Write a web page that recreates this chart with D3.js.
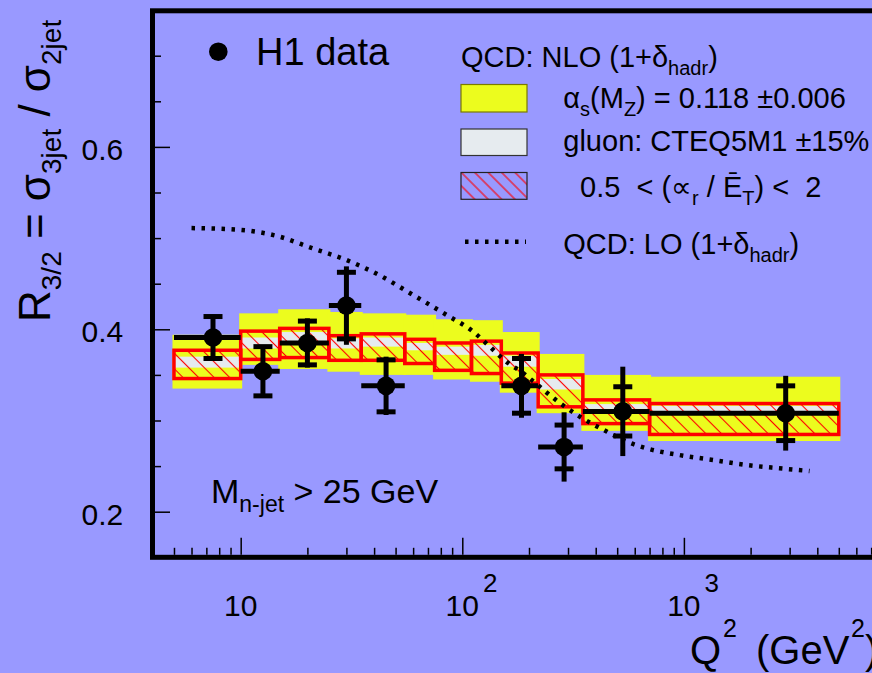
<!DOCTYPE html>
<html>
<head>
<meta charset="utf-8">
<script src="https://d3js.org/d3.v7.min.js"></script>
<style>
body { margin: 0; background: #9999ff; }
svg { display: block; }
text { font-family: "Liberation Sans", Arial, Helvetica, sans-serif; fill: #000; }
</style>
</head>
<body>
<div id="chart"></div>
<script>
// H1 data: R(3/2) vs Q^2
var binLo = [5, 10, 15, 25, 35, 150, 220, 350, 700];
var binHi = [10, 15, 25, 35, 55, 220, 350, 700, 5000];
var dataQ2 = [7.5, 12.6, 20, 30, 45.3, 185, 288, 530, 2880];
var dataR = [0.391, 0.354, 0.385, 0.426, 0.338, 0.338, 0.271, 0.310, 0.308];
var statErr = [0.023, 0.027, 0.024, 0.0365, 0.0285, 0.030, 0.024, 0.027, 0.030];
var totErr = [0.025, 0.0285, 0.027, 0.043, 0.032, 0.035, 0.038, 0.049, 0.041];

// NLO theory bins
var thEdges = [5, 10, 15, 25, 35, 55, 75, 110, 150, 220, 350, 700, 5000];
var alphaHi = [0.394, 0.4175, 0.422, 0.419, 0.4175, 0.416, 0.411, 0.410, 0.397, 0.373, 0.350, 0.348];
var alphaLo = [0.335, 0.361, 0.3565, 0.3535, 0.350, 0.350, 0.345, 0.3425, 0.3305, 0.308, 0.2886, 0.2775];
var gluonHi = [0.370, 0.391, 0.397, 0.390, 0.391, 0.385, 0.381, 0.383, 0.371, 0.3455, 0.318, 0.316];
var gluonLo = [0.358, 0.379, 0.387, 0.379, 0.381, 0.377, 0.372, 0.371, 0.359, 0.334, 0.3127, 0.308];
var scaleHi = [0.377, 0.398, 0.401, 0.393, 0.395, 0.389, 0.385, 0.387, 0.374, 0.350, 0.3226, 0.3186];
var scaleLo = [0.346, 0.367, 0.369, 0.366, 0.366, 0.3625, 0.355, 0.3515, 0.341, 0.315, 0.2966, 0.2847];

// LO curve
var loQ2 = [6, 10, 15, 21, 30, 42.5, 60, 85, 112, 133, 159, 188, 209, 276, 340, 448, 552, 679, 960, 1357, 1920, 2700, 3690];
var loR = [0.511, 0.509, 0.5015, 0.489, 0.476, 0.459, 0.4376, 0.4157, 0.3974, 0.381, 0.364, 0.352, 0.343, 0.319, 0.304, 0.288, 0.277, 0.2695, 0.262, 0.2567, 0.2512, 0.2476, 0.2446];

// ticks
var yMajor = [0.2, 0.4, 0.6];
var yMinor = [0.25, 0.3, 0.35, 0.45, 0.5, 0.55, 0.65, 0.7];
var xMajor = [10, 100, 1000];
var xMinor = [5, 6, 7, 8, 9, 20, 30, 40, 50, 60, 70, 80, 90, 200, 300, 400, 500, 600, 700, 800, 900, 2000, 3000, 4000, 5000, 6000, 7000, 8000, 9000];

var W = 872, H = 673;
var svg = d3.select("#chart").append("svg").attr("width", W).attr("height", H);
svg.append("rect").attr("width", W).attr("height", H).attr("fill", "#9999ff");

var defs = svg.append("defs");
function hatch(id, size) {
	var p = defs.append("pattern").attr("id", id)
		.attr("patternUnits", "userSpaceOnUse")
		.attr("width", size).attr("height", size)
		.attr("patternTransform", "rotate(-45)");
	p.append("line").attr("x1", size / 2).attr("y1", 0).attr("x2", size / 2).attr("y2", size)
		.attr("stroke", "#ff0000").attr("stroke-width", 1.1);
}
hatch("hatch", 11);
hatch("hatchLeg", 9.5);

var x = d3.scaleLog().domain([4, 10000]).range([152.5, 905.5]);
var y = d3.scaleLinear().domain([0.15, 0.75]).range([557.3, 10.1]);

var yellow = "#ecfc1e", grey = "#e6ebef", red = "#ff0000";

var th = d3.range(alphaHi.length);
var plot = svg.append("g");

// alpha_s band
plot.selectAll(".alpha").data(th).enter().append("rect")
	.attr("x", function(i) { return x(thEdges[i]) - 1.5; })
	.attr("width", function(i) { return x(thEdges[i + 1]) - x(thEdges[i]) + 3; })
	.attr("y", function(i) { return y(alphaHi[i]); })
	.attr("height", function(i) { return y(alphaLo[i]) - y(alphaHi[i]); })
	.attr("fill", yellow);

// gluon band
plot.selectAll(".gluon").data(th).enter().append("rect")
	.attr("x", function(i) { return x(thEdges[i]); })
	.attr("width", function(i) { return x(thEdges[i + 1]) - x(thEdges[i]); })
	.attr("y", function(i) { return y(gluonHi[i]); })
	.attr("height", function(i) { return y(gluonLo[i]) - y(gluonHi[i]); })
	.attr("fill", grey);

// scale variation boxes
plot.selectAll(".scale").data(th).enter().append("rect")
	.attr("x", function(i) { return x(thEdges[i]); })
	.attr("width", function(i) { return x(thEdges[i + 1]) - x(thEdges[i]); })
	.attr("y", function(i) { return y(scaleHi[i]); })
	.attr("height", function(i) { return y(scaleLo[i]) - y(scaleHi[i]); })
	.attr("fill", "url(#hatch)")
	.attr("stroke", red).attr("stroke-width", 3.5);

// LO curve
var loLine = d3.line()
	.x(function(d) { return x(d[0]); })
	.y(function(d) { return y(d[1]); })
	.curve(d3.curveMonotoneX);
plot.append("path")
	.datum(loQ2.map(function(q, i) { return [q, loR[i]]; }))
	.attr("d", loLine)
	.attr("fill", "none").attr("stroke", "#000")
	.attr("stroke-width", 4.5).attr("stroke-dasharray", "3.5,6.5");

// data points
var pts = plot.selectAll(".pt").data(dataQ2).enter().append("g");
pts.append("line")
	.attr("x1", function(d, i) { return x(binLo[i]); })
	.attr("x2", function(d, i) { return x(binHi[i]); })
	.attr("y1", function(d, i) { return y(dataR[i]); })
	.attr("y2", function(d, i) { return y(dataR[i]); })
	.attr("stroke", "#000").attr("stroke-width", 5);
pts.append("line")
	.attr("x1", function(d) { return x(d); })
	.attr("x2", function(d) { return x(d); })
	.attr("y1", function(d, i) { return y(dataR[i] + totErr[i]); })
	.attr("y2", function(d, i) { return y(dataR[i] - totErr[i]); })
	.attr("stroke", "#000").attr("stroke-width", 5);
[1, -1].forEach(function(s) {
	pts.append("line")
		.attr("x1", function(d) { return x(d) - 9.5; })
		.attr("x2", function(d) { return x(d) + 9.5; })
		.attr("y1", function(d, i) { return y(dataR[i] + s * statErr[i]); })
		.attr("y2", function(d, i) { return y(dataR[i] + s * statErr[i]); })
		.attr("stroke", "#000").attr("stroke-width", 5);
});
pts.append("circle")
	.attr("cx", function(d) { return x(d); })
	.attr("cy", function(d, i) { return y(dataR[i]); })
	.attr("r", 9.3).attr("fill", "#000");

// axes
function tickAxis(axis, g) {
	g.call(axis);
	g.select(".domain").remove();
	g.selectAll(".tick line").attr("stroke-width", 1.5);
}
var gy = svg.append("g").attr("transform", "translate(155,0)");
tickAxis(d3.axisLeft(y).tickValues(yMinor).tickSize(-6).tickFormat(""), gy.append("g"));
var gyM = gy.append("g");
tickAxis(d3.axisLeft(y).tickValues(yMajor).tickSize(-15).tickPadding(31.7).tickFormat(d3.format(".1f")), gyM);
gyM.selectAll("text").attr("font-size", 30).attr("dy", "0.41em")
	.style("font-family", "'Liberation Sans', Arial, sans-serif");

var gx = svg.append("g").attr("transform", "translate(0,554.8)");
tickAxis(d3.axisBottom(x).tickValues(xMinor).tickSize(-7).tickFormat(""), gx.append("g"));
tickAxis(d3.axisBottom(x).tickValues(xMajor).tickSize(-17).tickFormat(""), gx.append("g"));

// x tick labels
xMajor.forEach(function(v) {
	var e = Math.round(Math.log10(v));
	var t = svg.append("text").attr("y", 615.7).attr("font-size", 30);
	if (e === 1) {
		t.attr("x", x(v)).attr("text-anchor", "middle").text("10");
	} else {
		t.attr("x", x(v) - 16.7);
		t.append("tspan").text("10");
		t.append("tspan").attr("dx", 4).attr("dy", -24).attr("font-size", 26).text(e);
	}
});

// frame
svg.append("rect").attr("x", 152.5).attr("y", 10.8).attr("width", 800).attr("height", 546.5)
	.attr("fill", "none").attr("stroke", "#000").attr("stroke-width", 5);

// x title
var xt = svg.append("text").attr("y", 664).attr("font-size", 40);
xt.append("tspan").attr("x", 690).text("Q");
xt.append("tspan").attr("x", 723).attr("dy", -27).attr("font-size", 25).text("2");
xt.append("tspan").attr("x", 756).attr("dy", 27).text("(GeV");
xt.append("tspan").attr("x", 851).attr("dy", -27).attr("font-size", 25).text("2");
xt.append("tspan").attr("dy", 27).text(")");

// y title
var yt = svg.append("text").attr("transform", "translate(50,322) rotate(-90)").attr("font-size", 44);
yt.append("tspan").text("R");
yt.append("tspan").attr("dy", 11).attr("font-size", 28).text("3/2");
yt.append("tspan").attr("dy", -11).text(" = σ");
yt.append("tspan").attr("dy", 11).attr("font-size", 28).text("3jet");
yt.append("tspan").attr("dy", -11).text(" / σ");
yt.append("tspan").attr("dy", 11).attr("font-size", 28).text("2jet");

// cut label
var ml = svg.append("text").attr("x", 211).attr("y", 502.7).attr("font-size", 34);
ml.append("tspan").text("M");
ml.append("tspan").attr("dy", 9).attr("font-size", 23).text("n-jet");
ml.append("tspan").attr("dy", -9).text(" > 25 GeV");

// legend
svg.append("circle").attr("cx", 218.3).attr("cy", 51.7).attr("r", 9.3).attr("fill", "#000");
svg.append("text").attr("x", 256).attr("y", 65).attr("font-size", 38).text("H1 data");

var lg = svg.append("g").attr("font-size", 29);
var t0 = lg.append("text").attr("x", 461).attr("y", 66.7);
t0.append("tspan").text("QCD: NLO (1+δ");
t0.append("tspan").attr("dy", 8).attr("font-size", 20).text("hadr");
t0.append("tspan").attr("dy", -8).text(")");

lg.append("rect").attr("x", 461).attr("y", 84.5).attr("width", 66).attr("height", 27.5)
	.attr("fill", yellow).attr("stroke", "#7a7a00").attr("stroke-width", 1.2);
var t1 = lg.append("text").attr("x", 563.3).attr("y", 108.3);
t1.append("tspan").text("α");
t1.append("tspan").attr("dy", 8).attr("font-size", 20).text("s");
t1.append("tspan").attr("dy", -8).text("(M");
t1.append("tspan").attr("dy", 8).attr("font-size", 20).text("Z");
t1.append("tspan").attr("dy", -8).text(") = 0.118 ±0.006");

lg.append("rect").attr("x", 461).attr("y", 129).attr("width", 66).attr("height", 26.5)
	.attr("fill", grey).attr("stroke", "#333").attr("stroke-width", 1.2);
lg.append("text").attr("x", 563.3).attr("y", 150.7).text("gluon: CTEQ5M1 ±15%");

lg.append("rect").attr("x", 461).attr("y", 172.5).attr("width", 66).attr("height", 26.8)
	.attr("fill", "url(#hatchLeg)").attr("stroke", "#222").attr("stroke-width", 1.2);
var t3 = lg.append("text").attr("x", 580).attr("y", 196.7).attr("xml:space", "preserve");
t3.append("tspan").text("0.5  < (∝");
t3.append("tspan").attr("dy", 8).attr("font-size", 20).text("r");
t3.append("tspan").attr("dy", -8).text(" / Ē");
t3.append("tspan").attr("dy", 8).attr("font-size", 20).text("T");
t3.append("tspan").attr("dy", -8).text(") <  2");

lg.append("line").attr("x1", 465).attr("x2", 526).attr("y1", 241.7).attr("y2", 241.7)
	.attr("stroke", "#000").attr("stroke-width", 4.5).attr("stroke-dasharray", "3.5,6.5");
var t4 = lg.append("text").attr("x", 563.3).attr("y", 253.5);
t4.append("tspan").text("QCD: LO (1+δ");
t4.append("tspan").attr("dy", 8).attr("font-size", 20).text("hadr");
t4.append("tspan").attr("dy", -8).text(")");
</script>
</body>
</html>
